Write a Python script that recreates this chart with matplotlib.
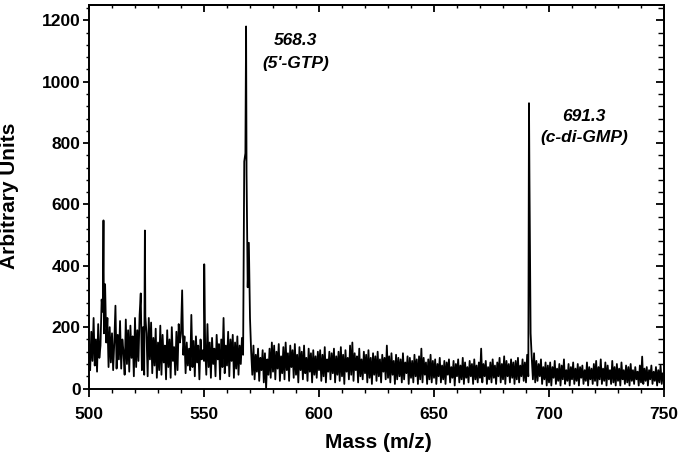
import numpy as np
import matplotlib
matplotlib.use("Agg")
import matplotlib.pyplot as plt
from matplotlib.ticker import MultipleLocator

plt.rcParams['font.family'] = ['Liberation Sans', 'DejaVu Sans']
plt.rcParams['font.weight'] = 'bold'

mz_start, mz_step = 500.0, 0.5
seg_500 = [120, 60, 185, 90, 230, 75, 160, 55, 210, 100,
           140, 290, 250, 180, 340, 150, 230, 70, 200, 85,
           180, 60, 150, 270, 65, 175, 95, 220, 65, 160,
           120, 45, 225, 80, 190, 55, 205, 100, 170, 40,
           230, 70, 190, 90, 240, 310, 60, 200, 45, 235,
           180, 40, 230, 95, 215, 50, 165, 75, 195, 35,
           150, 60, 205, 45, 175, 85, 140, 30, 190, 70,
           160, 35, 200, 90, 135, 45, 185, 60, 210, 150,
           180, 320, 110, 170, 50, 150, 75, 130, 60, 240,
           70, 155, 40, 170, 85, 140, 30, 160, 95, 125]
seg_550 = [90, 140, 45, 210, 70, 150, 35, 165, 80, 130,
           40, 175, 95, 145, 30, 160, 70, 230, 50, 140,
           75, 185, 40, 160, 90, 175, 35, 150, 65, 170,
           45, 140, 80, 165, 110, 740, 767, 700, 330, 475,
           230, 120, 45, 140, 30, 110, 55, 130, 25, 100,
           60, 125, 20, 115, 0, 95, 45, 130, 35, 150,
           55, 140, 30, 120, 65, 145, 25, 105, 50, 135,
           30, 150, 60, 115, 25, 140, 70, 125, 35, 145,
           45, 110, 20, 135, 60, 120, 30, 140, 50, 100,
           25, 130, 55, 115, 20, 125, 45, 105, 35, 120]
seg_600 = [60, 125, 25, 110, 40, 135, 20, 95, 55, 120,
           30, 115, 50, 130, 20, 105, 45, 120, 25, 135,
           40, 110, 15, 125, 55, 100, 30, 140, 45, 150,
           25, 115, 60, 105, 20, 130, 40, 95, 30, 120,
           50, 110, 20, 125, 35, 100, 15, 115, 45, 105,
           25, 120, 40, 95, 20, 110, 55, 100, 30, 140,
           35, 105, 20, 115, 45, 90, 15, 110, 30, 100,
           40, 95, 20, 115, 30, 85, 50, 105, 15, 100,
           35, 90, 20, 110, 40, 95, 15, 105, 30, 130,
           20, 100, 45, 85, 15, 95, 30, 110, 20, 90]
seg_650 = [35, 95, 15, 80, 40, 100, 20, 75, 30, 90,
           15, 85, 45, 95, 20, 70, 35, 90, 10, 80,
           40, 95, 20, 75, 30, 100, 15, 85, 35, 70,
           20, 90, 40, 80, 15, 95, 30, 75, 20, 85,
           35, 130, 20, 80, 40, 90, 15, 70, 30, 85,
           20, 95, 35, 75, 15, 85, 40, 100, 20, 80,
           30, 105, 15, 90, 40, 80, 20, 95, 35, 85,
           15, 90, 30, 100, 20, 75, 40, 95, 25, 85,
           20, 110, 40, 680, 180, 100, 30, 115, 20, 90,
           25, 80, 40, 95, 15, 70, 30, 85, 10, 75]
seg_700 = [20, 85, 10, 70, 35, 90, 15, 65, 25, 80,
           10, 75, 30, 95, 15, 60, 25, 80, 10, 70,
           30, 85, 15, 65, 25, 80, 10, 70, 35, 75,
           15, 60, 25, 85, 10, 70, 30, 65, 15, 80,
           25, 90, 10, 70, 30, 95, 15, 65, 25, 85,
           10, 75, 30, 60, 15, 90, 20, 70, 10, 80,
           25, 65, 10, 85, 30, 60, 15, 75, 20, 70,
           10, 80, 25, 60, 15, 70, 30, 55, 10, 75,
           20, 104, 15, 65, 25, 70, 10, 60, 30, 75,
           15, 55, 25, 70, 10, 60, 20, 75, 15, 50, 30]

# sharp peak tops that fall between samples
peak_mz = [506.3, 524.3, 550.1, 568.3, 691.3]
peak_height = [548, 515, 405, 1180, 930]

labels_top = ["568.3", "691.3"]
labels_bottom = ["(5'-GTP)", "(c-di-GMP)"]
label_x = [590, 715.3]
label_y_top = [1120, 871]
label_y_bottom = [1046, 803]

intensity = np.array(seg_500 + seg_550 + seg_600 + seg_650 + seg_700, dtype=float)
mz = mz_start + mz_step * np.arange(len(intensity))
mz = np.concatenate([mz, peak_mz])
intensity = np.concatenate([intensity, peak_height])
order = np.argsort(mz, kind='stable')
mz, intensity = mz[order], intensity[order]

fig = plt.figure(figsize=(6.83, 4.62), dpi=100)
ax = fig.add_axes([0.1303, 0.159, 0.8419, 0.8302])
ax.plot(mz, intensity, color='black', lw=1.3)

ax.set_xlim(500, 750)
ax.set_ylim(0, 1250)
ax.xaxis.set_major_locator(MultipleLocator(50))
ax.xaxis.set_minor_locator(MultipleLocator(10))
ax.yaxis.set_major_locator(MultipleLocator(200))
ax.yaxis.set_minor_locator(MultipleLocator(40))
ax.tick_params(axis='x', which='major', direction='out', length=5.5, width=1.3,
               labelsize=12.5, pad=8)
ax.tick_params(axis='x', which='minor', direction='out', length=3, width=1)
ax.tick_params(axis='y', which='major', direction='out', length=4, width=1.3,
               labelsize=12.5, pad=2)
ax.tick_params(axis='y', which='minor', direction='out', length=2.5, width=1)
for s in ax.spines.values():
    s.set_linewidth(1.4)

# inward ticks on top and right
secx = ax.secondary_xaxis('top')
secx.xaxis.set_major_locator(MultipleLocator(50))
secx.xaxis.set_minor_locator(MultipleLocator(10))
secx.tick_params(axis='x', which='major', direction='in', length=5, width=1.3, labeltop=False)
secx.tick_params(axis='x', which='minor', direction='in', length=2.5, width=1)
secy = ax.secondary_yaxis('right')
secy.yaxis.set_major_locator(MultipleLocator(200))
secy.yaxis.set_minor_locator(MultipleLocator(40))
secy.tick_params(axis='y', which='major', direction='in', length=6, width=1.3, labelright=False)
secy.tick_params(axis='y', which='minor', direction='in', length=4.5, width=1)
for sec in (secx, secy):
    for s in sec.spines.values():
        s.set_linewidth(1.4)

for i in range(len(labels_top)):
    ax.text(label_x[i], label_y_top[i], labels_top[i], ha='center', va='baseline',
            fontsize=12.5, fontweight='bold', style='italic')
    ax.text(label_x[i], label_y_bottom[i], labels_bottom[i], ha='center', va='baseline',
            fontsize=12.5, fontweight='bold', style='italic')

fig.text(378 / 683, 1 - 442 / 462, 'Mass (m/z)', ha='center', va='center',
         fontsize=15, fontweight='bold')
fig.text(10 / 683, 1 - 196 / 462, 'Arbitrary Units', ha='center', va='center',
         rotation=90, fontsize=15, fontweight='bold')

fig.savefig('out.png', dpi=100)
